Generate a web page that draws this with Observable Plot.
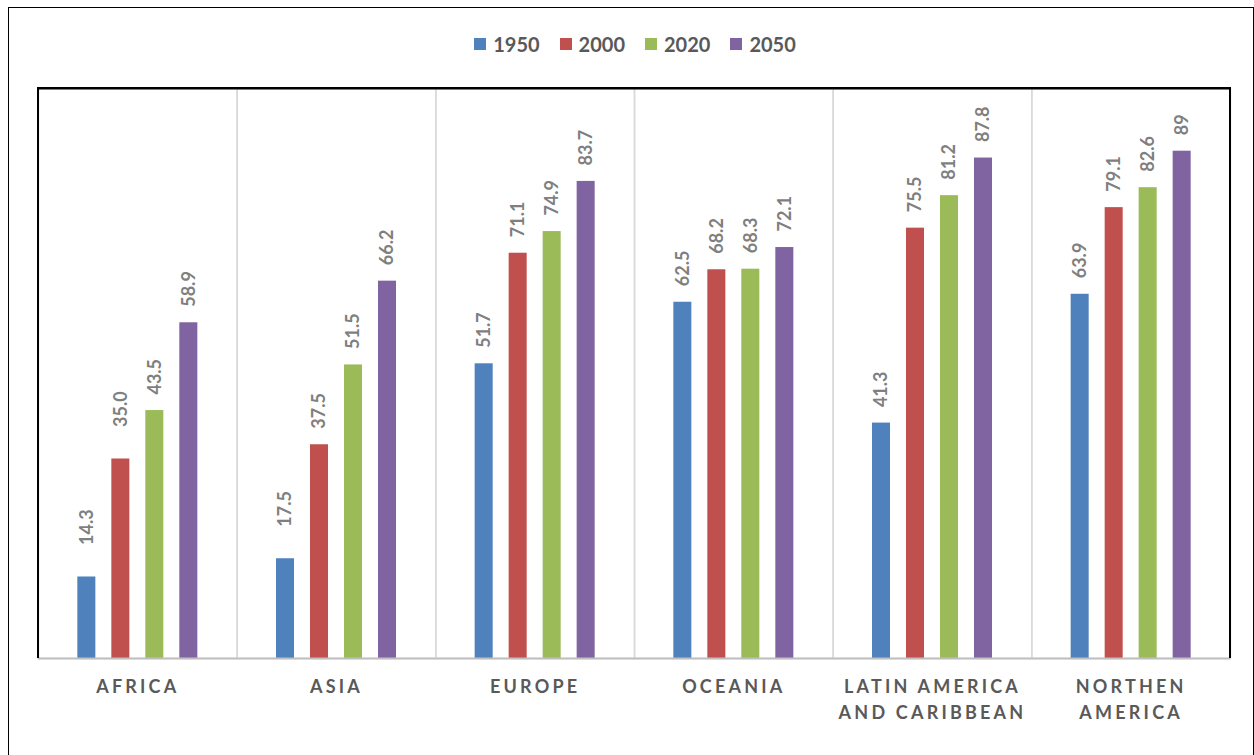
<!DOCTYPE html>
<html><head><meta charset="utf-8">
<script src="https://cdn.jsdelivr.net/npm/d3@7"></script>
<script src="https://cdn.jsdelivr.net/npm/@observablehq/plot@0.6"></script>
<style>
html,body{margin:0;padding:0;background:#fff;}
body{width:1254px;height:755px;position:relative;overflow:hidden;font-family:Lato,"Open Sans",sans-serif;}
#border{position:absolute;left:8px;top:7px;width:1246px;height:760px;border:1.5px solid #000;box-sizing:border-box;}
#legend{position:absolute;top:32px;left:8px;width:1254px;display:flex;justify-content:center;align-items:center;font-weight:700;font-size:20px;color:#595959;}
#legend .item{display:flex;align-items:center;margin:0 10px;}
#legend .sw{width:12px;height:12px;margin-right:7px;}
#chart{position:absolute;left:0;top:70px;}
#chart svg [aria-label="fx-axis tick label"] text{letter-spacing:3.2px;}
</style>
</head><body>
<div id="border"></div>
<div id="legend"></div>
<div id="chart"></div>
<script>
const regions = ["AFRICA","ASIA","EUROPE","OCEANIA","LATIN AMERICA AND CARIBBEAN","NORTHEN AMERICA"];
const regionLabels = ["AFRICA","ASIA","EUROPE","OCEANIA","LATIN AMERICA\nAND CARIBBEAN","NORTHEN\nAMERICA"];
const years = ["1950","2000","2020","2050"];
const colors = ["#4f81bd","#c0504d","#9bbb59","#8064a2"];
const values1950 = [14.3, 17.5, 51.7, 62.5, 41.3, 63.9];
const values2000 = [35.0, 37.5, 71.1, 68.2, 75.5, 79.1];
const values2020 = [43.5, 51.5, 74.9, 68.3, 81.2, 82.6];
const values2050 = [58.9, 66.2, 83.7, 72.1, 87.8, 89];
const labels1950 = ["14.3","17.5","51.7","62.5","41.3","63.9"];
const labels2000 = ["35.0","37.5","71.1","68.2","75.5","79.1"];
const labels2020 = ["43.5","51.5","74.9","68.3","81.2","82.6"];
const labels2050 = ["58.9","66.2","83.7","72.1","87.8","89"];

const seriesValues = [values1950, values2000, values2020, values2050];
const seriesLabels = [labels1950, labels2000, labels2020, labels2050];
const data = [];
regions.forEach((r, i) => years.forEach((y, j) => data.push({region: r, year: y, value: seriesValues[j][i], label: seriesLabels[j][i]})));

// labels that sit a little higher in the original chart
const raised = new Set(["AFRICA|1950", "AFRICA|2000", "ASIA|1950"]);
const isRaised = d => raised.has(d.region + "|" + d.year);

// legend
const lg = document.getElementById("legend");
years.forEach((y, j) => {
  const it = document.createElement("div"); it.className = "item";
  const sw = document.createElement("div"); sw.className = "sw"; sw.style.background = colors[j];
  const tx = document.createElement("span"); tx.textContent = y;
  it.appendChild(sw); it.appendChild(tx); lg.appendChild(it);
});

const labelStyle = {fx: "region", x: "year", y: "value", text: "label", rotate: -90, textAnchor: "start",
  fill: "#7f7f7f", fontWeight: 700, fontSize: 18};

const chart = Plot.plot({
  width: 1254,
  height: 685,
  marginLeft: 38,
  marginRight: 24,
  marginTop: 18,
  marginBottom: 97,
  style: {fontFamily: "Lato, 'Open Sans', sans-serif", background: "transparent"},
  fx: {domain: regions, padding: 0, label: null, round: false},
  x: {domain: years, paddingInner: 0.47, paddingOuter: 1.157, axis: null, round: false},
  y: {domain: [0, 100], axis: null},
  color: {domain: years, range: colors},
  marks: [
    Plot.frame({stroke: "#d9d9d9", strokeWidth: 1.5}),
    Plot.barY(data, {fx: "region", x: "year", y: "value", fill: "year"}),
    Plot.ruleY([0], {stroke: "#bfbfbf", strokeWidth: 2}),
    Plot.ruleY([100], {stroke: "#000", strokeWidth: 2}),
    Plot.text(data, {...labelStyle, filter: d => !isRaised(d), dy: -16}),
    Plot.text(data, {...labelStyle, filter: isRaised, dy: -32}),
    Plot.axisFx({anchor: "bottom", tickSize: 0, tickPadding: 16, label: null,
      tickFormat: d => regionLabels[regions.indexOf(d)], fontSize: 18, fontWeight: 700, fill: "#595959", lineHeight: 1.44})
  ]
});
document.getElementById("chart").appendChild(chart);

// black plot-area outline (top, left, right) from the library's scales
const fxr = chart.scale("fx").range, yr = chart.scale("y").range;
const x0 = Math.min(...fxr), x1 = Math.max(...fxr), yb = Math.max(...yr), yt = Math.min(...yr);
d3.select(chart).append("path")
  .attr("d", `M${x0},${yb}V${yt}H${x1}V${yb}`)
  .attr("fill", "none").attr("stroke", "#000").attr("stroke-width", 2);
</script>
</body></html>
